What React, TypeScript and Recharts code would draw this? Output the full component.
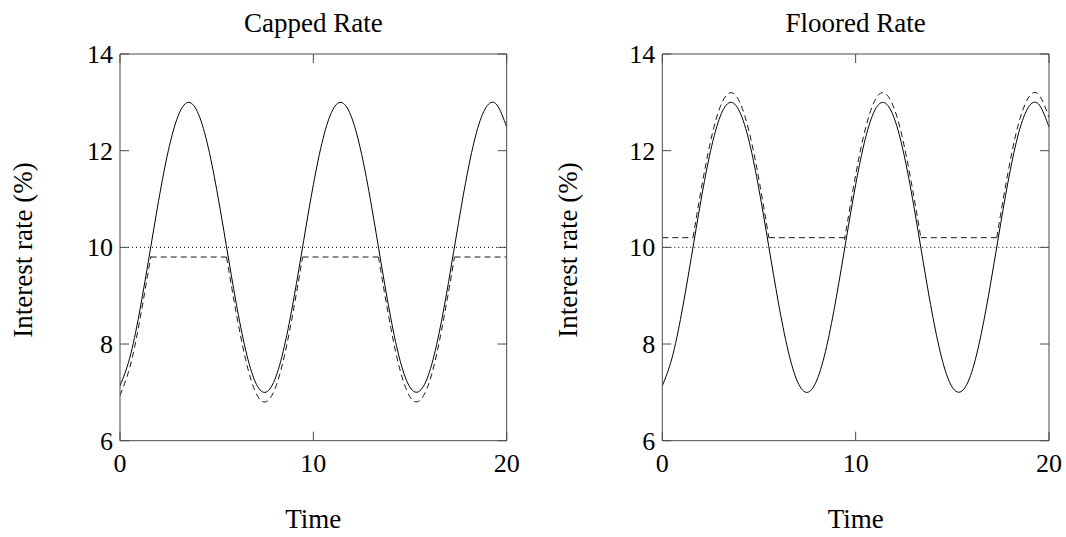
import React from 'react';
import { LineChart, Line, XAxis, YAxis, ReferenceLine } from 'recharts';

// ---- data ----
const time = [0, 0.5, 1, 1.5, 2, 2.5, 3, 3.5, 4, 4.5, 5, 5.5, 6, 6.5, 7, 7.5, 8, 8.5, 9, 9.5, 10,
  10.5, 11, 11.5, 12, 12.5, 13, 13.5, 14, 14.5, 15, 15.5, 16, 16.5, 17, 17.5, 18, 18.5, 19, 19.5, 20];
const baseRate = [7.135, 7.707, 8.641, 9.79, 10.972, 12.001, 12.713, 12.998, 12.808, 12.176, 11.198,
  10.035, 8.866, 7.874, 7.214, 7.0, 7.259, 7.95, 8.966, 10.14, 11.296, 12.247, 12.844, 12.991, 12.666,
  11.921, 10.875, 9.685, 8.547, 7.637, 7.105, 7.029, 7.415, 8.219, 9.298, 10.489, 11.603, 12.464,
  12.935, 12.945, 12.487];

const cappedTime = [0, 0.5, 1, 1.5, 1.59, 5.51, 6, 6.5, 7, 7.5, 8, 8.5, 9, 9.44, 13.37, 13.5, 14, 14.5,
  15, 15.5, 16, 16.5, 17, 17.3, 20];
const cappedRate = [6.935, 7.507, 8.441, 9.59, 9.8, 9.8, 8.666, 7.674, 7.014, 6.8, 7.059, 7.75, 8.766,
  9.8, 9.8, 9.485, 8.347, 7.437, 6.905, 6.829, 7.215, 8.019, 9.098, 9.8, 9.8];

const flooredTime = [0, 1.59, 2, 2.5, 3, 3.5, 4, 4.5, 5, 5.51, 9.44, 9.5, 10, 10.5, 11, 11.5, 12, 12.5,
  13, 13.37, 17.3, 17.5, 18, 18.5, 19, 19.5, 20];
const flooredRate = [10.2, 10.2, 11.172, 12.201, 12.913, 13.198, 13.008, 12.376, 11.398, 10.2, 10.2,
  10.34, 11.496, 12.447, 13.044, 13.191, 12.866, 12.121, 11.075, 10.2, 10.2, 10.689, 11.803, 12.664,
  13.135, 13.145, 12.687];

const strikeLevel = 10;
const xTicks = [0, 10, 20];
const yTicks = [6, 8, 10, 12, 14];
const xDomain = [0, 20];
const yDomain = [6, 14];

// ---- helpers ----
type Pt = { t: number; v: number };
const toPoints = (t: number[], v: number[]): Pt[] => t.map((tt, i) => ({ t: tt, v: v[i] }));

function splitSegments(t: number[], v: number[]) {
  const segs: { flat: boolean; pts: Pt[] }[] = [];
  let cur: { flat: boolean; pts: Pt[] } | null = null;
  for (let i = 0; i < t.length - 1; i++) {
    const flat = v[i] === v[i + 1];
    if (!cur || cur.flat !== flat) {
      cur = { flat, pts: [{ t: t[i], v: v[i] }] };
      segs.push(cur);
    }
    cur.pts.push({ t: t[i + 1], v: v[i + 1] });
  }
  return segs;
}

const FONT = '"Liberation Serif", "Times New Roman", serif';
const AXIS = '#4a4a4a';
const TICK = 9;

const LeftTick = (p: any) => (
  <g>
    <line x1={p.x} x2={p.x + TICK} y1={p.y} y2={p.y} stroke={AXIS} strokeWidth={1} />
    <text x={p.x - 7} y={p.y + 9} textAnchor="end" fontFamily={FONT} fontSize={26} fill="#000">
      {p.payload.value}
    </text>
  </g>
);
const RightTick = (p: any) => (
  <line x1={p.x} x2={p.x - TICK} y1={p.y} y2={p.y} stroke={AXIS} strokeWidth={1} />
);
const BottomTick = (p: any) => (
  <g>
    <line x1={p.x} x2={p.x} y1={p.y} y2={p.y - TICK} stroke={AXIS} strokeWidth={1} />
    <text x={p.x} y={p.y + 31} textAnchor="middle" fontFamily={FONT} fontSize={26} fill="#000">
      {p.payload.value}
    </text>
  </g>
);
const TopTick = (p: any) => (
  <line x1={p.x} x2={p.x} y1={p.y} y2={p.y + TICK} stroke={AXIS} strokeWidth={1} />
);

const CHART_W = 533;
const CHART_H = 537;
const PLOT_W = 386.7;
const PLOT_TOP = 54;
const PLOT_BOTTOM = 440.7;

function Panel({ dashT, dashV, plotLeft }: { dashT: number[]; dashV: number[]; plotLeft: number }) {
  const segs = splitSegments(dashT, dashV);
  const margin = {
    top: PLOT_TOP - 1,
    left: plotLeft - 1,
    right: CHART_W - plotLeft - PLOT_W - 1,
    bottom: CHART_H - PLOT_BOTTOM - 1,
  };
  return (
    <LineChart width={CHART_W} height={CHART_H} margin={margin}>
      <XAxis
        type="number" dataKey="t" domain={xDomain} ticks={xTicks} interval={0}
        height={1} tickSize={0} tickMargin={0} tickLine={false}
        axisLine={{ stroke: AXIS, strokeWidth: 1 }}
        tick={(p: any) => <BottomTick {...p} />}
        allowDataOverflow
      />
      <XAxis
        xAxisId="top" orientation="top" type="number" dataKey="t" domain={xDomain} ticks={xTicks}
        interval={0} height={1} tickSize={0} tickMargin={0} tickLine={false}
        axisLine={{ stroke: AXIS, strokeWidth: 1 }}
        tick={(p: any) => <TopTick {...p} />}
        allowDataOverflow
      />
      <YAxis
        type="number" domain={yDomain} ticks={yTicks} interval={0}
        width={1} tickSize={0} tickMargin={0} tickLine={false}
        axisLine={{ stroke: AXIS, strokeWidth: 1 }}
        tick={(p: any) => <LeftTick {...p} />}
        allowDataOverflow
      />
      <YAxis
        yAxisId="right" orientation="right" type="number" domain={yDomain} ticks={yTicks} interval={0}
        width={1} tickSize={0} tickMargin={0} tickLine={false}
        axisLine={{ stroke: AXIS, strokeWidth: 1 }}
        tick={(p: any) => <RightTick {...p} />}
        allowDataOverflow
      />
      <ReferenceLine y={strikeLevel} stroke="#000" strokeWidth={1} strokeDasharray="1 3" />
      <Line
        data={toPoints(time, baseRate)} dataKey="v" type="natural" stroke="#000" strokeWidth={1}
        dot={false} activeDot={false} isAnimationActive={false}
      />
      {segs.map((s, i) => (
        <Line
          key={i} data={s.pts} dataKey="v" type={s.flat ? 'linear' : 'natural'}
          stroke="#1a1a1a" strokeWidth={1} strokeDasharray="6 4"
          dot={false} activeDot={false} isAnimationActive={false}
        />
      ))}
    </LineChart>
  );
}

export default function App() {
  return (
    <div style={{ position: 'absolute', left: 0, top: 0, width: 1066, height: 537, background: '#fff' }}>
      <div style={{ position: 'absolute', left: 0, top: 0 }}>
        <Panel dashT={cappedTime} dashV={cappedRate} plotLeft={120} />
      </div>
      <div style={{ position: 'absolute', left: 533, top: 0 }}>
        <Panel dashT={flooredTime} dashV={flooredRate} plotLeft={129.3} />
      </div>
      <svg width={1066} height={537} style={{ position: 'absolute', left: 0, top: 0, pointerEvents: 'none' }}>
        <g fontFamily={FONT} fontSize={27} fill="#000" textAnchor="middle">
          <text x={313.3} y={32}>Capped Rate</text>
          <text x={855.7} y={32}>Floored Rate</text>
          <text x={313.3} y={528}>Time</text>
          <text x={855.7} y={528}>Time</text>
          <text transform="translate(32,250) rotate(-90)">Interest rate (%)</text>
          <text transform="translate(577,250) rotate(-90)">Interest rate (%)</text>
        </g>
      </svg>
    </div>
  );
}
